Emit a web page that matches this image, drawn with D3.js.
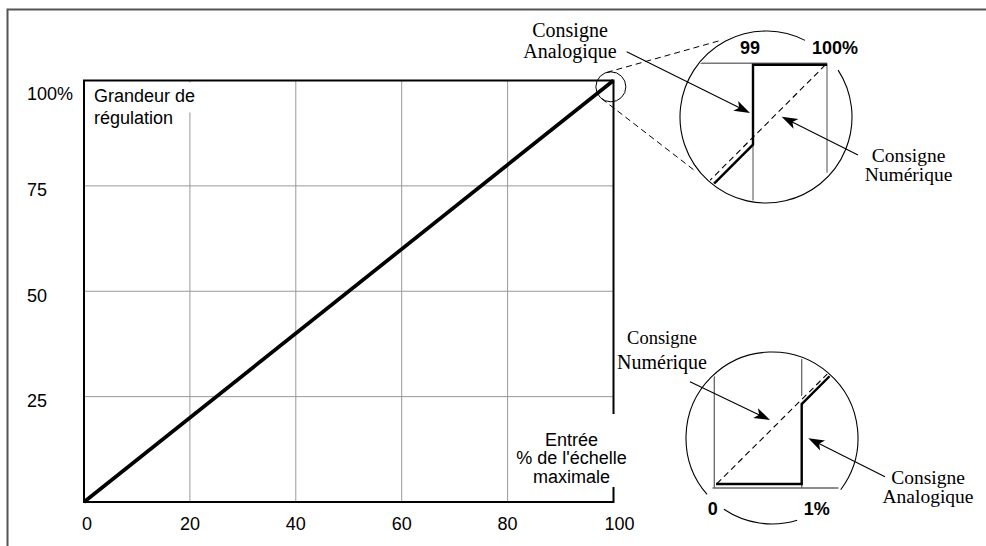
<!DOCTYPE html>
<html><head><meta charset="utf-8">
<script src="https://cdn.jsdelivr.net/npm/d3@7"></script>
<style>body{margin:0;background:#fff}svg{display:block}</style>
</head><body><svg id="c" width="986" height="546"></svg>
<script>
// ---- data ----
const xTicks = [0, 20, 40, 60, 80, 100];
const xTickLabels = ["0", "20", "40", "60", "80", "100"];
const yTicks = [25, 50, 75, 100];
const yTickLabels = ["25", "50", "75", "100%"];
const xGrid = [20, 40, 60, 80];
const yGrid = [25, 50, 75];
const mainInput = [0, 100];
const mainOutput = [0, 100];
// top inset : zoom on 99..100 %
const topTicks = [99, 100];
const topTickLabels = ["99", "100%"];
const topNumX = [98.2, 100];
const topNumY = [98.2, 100];
const topAnaX = [98.2, 99, 99, 100];
const topAnaY = [98.1, 98.9, 99.98, 99.98];
// bottom inset : zoom on 0..1 %
const botTicks = [0, 1];
const botTickLabels = ["0", "1%"];
const botNumX = [0.03, 1.45];
const botNumY = [0.05, 1.46];
const botAnaX = [0.02, 1, 1, 1.45];
const botAnaY = [0.045, 0.045, 0.96, 1.41];

// ---- drawing ----
const svg = d3.select("#c");
const SANS = "'Liberation Sans', Arial, sans-serif";
const SERIF = "'Liberation Serif', 'Times New Roman', serif";

const x = d3.scaleLinear().domain([0, 100]).range([84, 613.5]);
const y = d3.scaleLinear().domain([0, 100]).range([502, 80.5]);

// outer frame
svg.append("path").attr("d", "M7.5,546V9.5H986").attr("fill", "none")
  .attr("stroke", "#555").attr("stroke-width", 2);

// grid
svg.append("g").selectAll("line").data(xGrid).join("line")
  .attr("x1", d => x(d)).attr("x2", d => x(d))
  .attr("y1", y(0)).attr("y2", y(100))
  .attr("stroke", "#999").attr("stroke-width", 1);
svg.append("g").selectAll("line").data(yGrid).join("line")
  .attr("x1", x(0)).attr("x2", x(100))
  .attr("y1", d => y(d)).attr("y2", d => y(d))
  .attr("stroke", "#999").attr("stroke-width", 1);

// frame of the plot
svg.append("rect").attr("x", x(0)).attr("y", y(100))
  .attr("width", x(100) - x(0)).attr("height", y(0) - y(100))
  .attr("fill", "none").attr("stroke", "#000").attr("stroke-width", 2);

// main line
const pts = mainInput.map((v, i) => [v, mainOutput[i]]);
svg.append("path").datum(pts)
  .attr("d", d3.line().x(d => x(d[0])).y(d => y(d[1])))
  .attr("fill", "none").attr("stroke", "#000").attr("stroke-width", 3.7);

// knockouts behind labels
svg.append("rect").attr("x", x(0) + 2).attr("y", y(100) + 2).attr("width", 115).attr("height", 30).attr("fill", "#fff");
svg.append("rect").attr("x", 510).attr("y", 414).attr("width", 125).attr("height", 73).attr("fill", "#fff");

// axis labels
const tx = svg.append("g").attr("font-family", SANS).attr("font-size", 18).attr("fill", "#000");
tx.selectAll("text.xt").data(xTicks).join("text").attr("class", "xt")
  .attr("x", (d, i) => x(d) + (i === 0 ? 3 : i === xTicks.length - 1 ? 6 : 0))
  .attr("y", 529.5).attr("text-anchor", "middle")
  .text((d, i) => xTickLabels[i]);
tx.selectAll("text.yt").data(yTicks).join("text").attr("class", "yt")
  .attr("x", 27).attr("y", d => y(d) + (d === 100 ? 19.5 : 10.5))
  .text((d, i) => yTickLabels[i]);

const gl = tx.append("text").attr("x", 94);
gl.append("tspan").attr("x", 94).attr("y", 102).text("Grandeur de");
gl.append("tspan").attr("x", 94).attr("y", 124).text("régulation");

const el = tx.append("text").attr("text-anchor", "middle");
["Entrée", "% de l'échelle", "maximale"].forEach((t, i) =>
  el.append("tspan").attr("x", 571.5).attr("y", 445.5 + i * 18.5).text(t));

// small zoom circle on the main chart
const sc = { x: x(99.5), y: y(98.5), r: 15 };
svg.append("circle").attr("cx", sc.x).attr("cy", sc.y).attr("r", sc.r)
  .attr("fill", "none").attr("stroke", "#000").attr("stroke-width", 1);

// ---- insets ----
const topC = { x: 766, y: 117, r: 86 };
const botC = { x: 772, y: 438, r: 86 };

// tangent dashed lines between small circle and top inset circle
(function () {
  const dx = topC.x - sc.x, dy = topC.y - sc.y, d = Math.hypot(dx, dy);
  const base = Math.atan2(dy, dx), al = Math.asin((topC.r - sc.r) / d);
  [[base - al, -1], [base + al, 1]].forEach(([phi, s]) => {
    const nx = s * -Math.sin(phi), ny = s * Math.cos(phi);
    const p1 = [sc.x + sc.r * nx, sc.y + sc.r * ny];
    const p2 = [topC.x + topC.r * nx, topC.y + topC.r * ny];
    const f = 0.85;
    svg.append("line").attr("x1", p1[0]).attr("y1", p1[1])
      .attr("x2", p1[0] + (p2[0] - p1[0]) * f).attr("y2", p1[1] + (p2[1] - p1[1]) * f)
      .attr("stroke", "#000").attr("stroke-width", 1).attr("stroke-dasharray", "6,4");
  });
})();

const defs = svg.append("defs");
defs.append("clipPath").attr("id", "clipTop").append("circle")
  .attr("cx", topC.x).attr("cy", topC.y).attr("r", topC.r - 1.5);
defs.append("clipPath").attr("id", "clipBot").append("circle")
  .attr("cx", botC.x).attr("cy", botC.y).attr("r", botC.r - 1.5);

function arcs(c, segs) {
  segs.forEach(([a0, a1]) => {
    const p = d3.path();
    const r0 = a0 * Math.PI / 180, r1 = a1 * Math.PI / 180;
    p.moveTo(c.x + c.r * Math.cos(r0), c.y + c.r * Math.sin(r0));
    p.arc(c.x, c.y, c.r, r0, r1);
    svg.append("path").attr("d", p.toString()).attr("fill", "none")
      .attr("stroke", "#000").attr("stroke-width", 1.1);
  });
}
arcs(topC, [[-33, 297]]);
arcs(botC, [[73, 124], [139, 397]]);

// top inset
const xT = d3.scaleLinear().domain([99, 100]).range([753, 827]);
const yT = d3.scaleLinear().domain([99, 100]).range([137.3, 63.3]);
const gT = svg.append("g").attr("clip-path", "url(#clipTop)");
gT.append("line").attr("x1", xT(98.2)).attr("x2", xT(100)).attr("y1", yT(100)).attr("y2", yT(100))
  .attr("stroke", "#777").attr("stroke-width", 1.6);
gT.selectAll("line.v").data(topTicks).join("line").attr("class", "v")
  .attr("x1", d => xT(d)).attr("x2", d => xT(d))
  .attr("y1", yT(100)).attr("y2", d => d === 100 ? yT(98.52) : yT(97.9))
  .attr("stroke", "#777").attr("stroke-width", 1.3);
gT.append("path").datum(topNumX.map((v, i) => [v, topNumY[i]]))
  .attr("d", d3.line().x(d => xT(d[0])).y(d => yT(d[1])))
  .attr("fill", "none").attr("stroke", "#000").attr("stroke-width", 1.1).attr("stroke-dasharray", "6,4");
gT.append("path").datum(topAnaX.map((v, i) => [v, topAnaY[i]]))
  .attr("d", d3.line().x(d => xT(d[0])).y(d => yT(d[1])))
  .attr("fill", "none").attr("stroke", "#000").attr("stroke-width", 2.4);
svg.append("g").attr("font-family", SANS).attr("font-weight", "bold").attr("font-size", 18)
  .selectAll("text").data(topTicks).join("text")
  .attr("x", d => xT(d) + (d === 100 ? 8 : -3)).attr("y", 53.5).attr("text-anchor", "middle")
  .text((d, i) => topTickLabels[i]);

// bottom inset
const xB = d3.scaleLinear().domain([0, 1]).range([714.3, 801.7]);
const yB = d3.scaleLinear().domain([0, 1]).range([488, 400.6]);
const gB = svg.append("g").attr("clip-path", "url(#clipBot)");
gB.append("line").attr("x1", xB(-0.02)).attr("x2", xB(1.42)).attr("y1", yB(0)).attr("y2", yB(0))
  .attr("stroke", "#666").attr("stroke-width", 1.3);
gB.selectAll("line.v").data(botTicks).join("line").attr("class", "v")
  .attr("x1", d => xB(d)).attr("x2", d => xB(d))
  .attr("y1", yB(0)).attr("y2", yB(1.8))
  .attr("stroke", "#666").attr("stroke-width", 1.3);
gB.append("path").datum(botNumX.map((v, i) => [v, botNumY[i]]))
  .attr("d", d3.line().x(d => xB(d[0])).y(d => yB(d[1])))
  .attr("fill", "none").attr("stroke", "#fff").attr("stroke-width", 5);
gB.append("path").datum(botNumX.map((v, i) => [v, botNumY[i]]))
  .attr("d", d3.line().x(d => xB(d[0])).y(d => yB(d[1])))
  .attr("fill", "none").attr("stroke", "#000").attr("stroke-width", 1.1).attr("stroke-dasharray", "6,4");
gB.append("path").datum(botAnaX.map((v, i) => [v, botAnaY[i]]))
  .attr("d", d3.line().x(d => xB(d[0])).y(d => yB(d[1])))
  .attr("fill", "none").attr("stroke", "#000").attr("stroke-width", 2.4);
svg.append("g").attr("font-family", SANS).attr("font-weight", "bold").attr("font-size", 18)
  .selectAll("text").data(botTicks).join("text")
  .attr("x", d => xB(d) + (d === 1 ? 15 : -1.5)).attr("y", 515).attr("text-anchor", "middle")
  .text((d, i) => botTickLabels[i]);

// arrows
function arrow(x1, y1, x2, y2) {
  const a = Math.atan2(y2 - y1, x2 - x1), L = 16, W = 5.5;
  const c = Math.cos(a), s = Math.sin(a);
  svg.append("line").attr("x1", x1).attr("y1", y1)
    .attr("x2", x2 - L * 0.7 * c).attr("y2", y2 - L * 0.7 * s)
    .attr("stroke", "#000").attr("stroke-width", 1.1);
  const p = d3.path();
  p.moveTo(x2, y2);
  p.lineTo(x2 - L * c + W * s, y2 - L * s - W * c);
  p.lineTo(x2 - L * 0.75 * c, y2 - L * 0.75 * s);
  p.lineTo(x2 - L * c - W * s, y2 - L * s + W * c);
  p.closePath();
  svg.append("path").attr("d", p.toString()).attr("fill", "#000");
}
arrow(626.7, 51.7, 750, 113);
arrow(858, 155, 781.7, 116.7);
arrow(690, 381.7, 770, 420);
arrow(885, 476.7, 808.3, 438.3);

// annotation texts (serif), each a single text with one tspan per line
const ann = [
  { lines: ["Consigne", "Analogique"], x: 570, y: [37, 58], size: [20, 20] },
  { lines: ["Consigne", "Numérique"], x: 908.5, y: [161.5, 181], size: [19.5, 19.5] },
  { lines: ["Consigne", "Numérique"], x: 662, y: [343.5, 368.5], size: [18.5, 20] },
  { lines: ["Consigne", "Analogique"], x: 928, y: [483.5, 503], size: [19.5, 19.5] }
];
const ga = svg.append("g").attr("font-family", SERIF).attr("fill", "#000").attr("text-anchor", "middle");
ann.forEach(a => {
  const t = ga.append("text");
  a.lines.forEach((s, i) =>
    t.append("tspan").attr("x", a.x).attr("y", a.y[i]).attr("font-size", a.size[i]).text(s));
});
</script>
</body></html>
